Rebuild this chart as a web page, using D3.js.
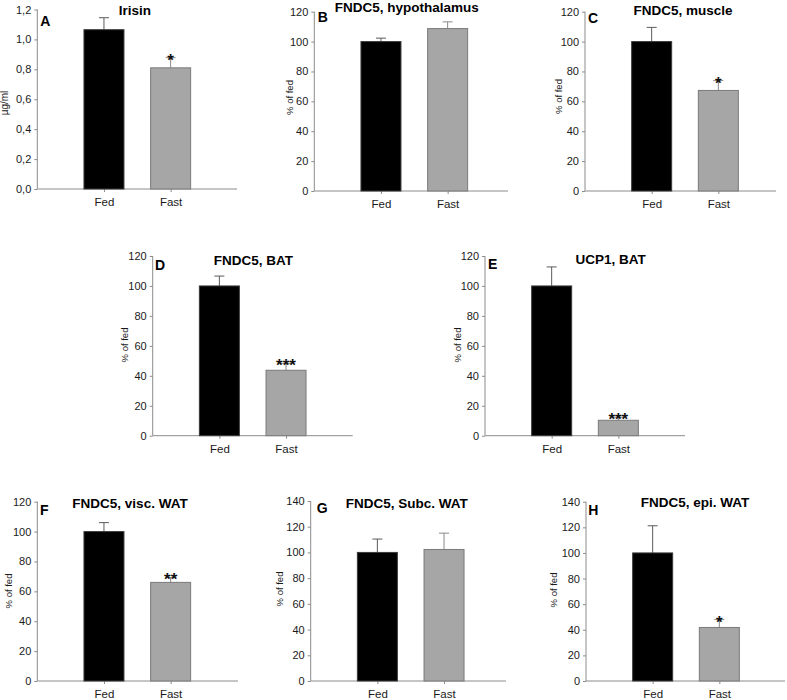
<!DOCTYPE html>
<html><head><meta charset="utf-8">
<script src="https://cdn.jsdelivr.net/npm/d3@7"></script>
<style>
body{margin:0;background:#fff;}
svg{display:block;font-family:"Liberation Sans",Arial,sans-serif;}
</style></head>
<body><svg id="chart" width="787" height="700"></svg>
<script>
// ---- data ----
const categories = ["Fed", "Fast"];
const panelLetters = ["A", "B", "C", "D", "E", "F", "G", "H"];
const panelTitles = ["Irisin", "FNDC5, hypothalamus", "FNDC5, muscle", "FNDC5, BAT",
  "UCP1, BAT", "FNDC5, visc. WAT", "FNDC5, Subc. WAT", "FNDC5, epi. WAT"];
const yLabels = ["µg/ml", "% of fed", "% of fed", "% of fed", "% of fed", "% of fed", "% of fed", "% of fed"];
const fedValues  = [1.065, 100, 100, 100, 100, 100, 100, 100];
const fastValues = [0.81, 108.7, 67.3, 43.7, 10.3, 66.0, 102.3, 41.8];
const fedErrors  = [0.08, 2.3, 9.5, 6.6, 12.7, 6.0, 10.4, 21.2];
const fastErrors = [0.068, 4.5, 6.6, 4.6, 2.0, 3.3, 12.7, 6.2];
const yMaxima = [1.2, 120, 120, 120, 120, 120, 140, 140];
const yTickSteps = [0.2, 20, 20, 20, 20, 20, 20, 20];
const significance = ["*", "", "*", "***", "***", "**", "", "*"];

// ---- layout (pixels) ----
const layout = [
  {x0: 37.3, xEnd: 237, yTop: 9.5, yBot: 189, lx: 3, ly: 16.5, tx: 135, ty: 15, labX: 8, labY: 103},
  {x0: 314.3, xEnd: 508, yTop: 11.7, yBot: 191, lx: 3.4, ly: 10, tx: 406.7, ty: 11.5, labX: 293, labY: 97.5},
  {x0: 585, xEnd: 776, yTop: 11.7, yBot: 191, lx: 3, ly: 11.7, tx: 683, ty: 15, labX: 561.5, labY: 96.5},
  {x0: 152.7, xEnd: 352.7, yTop: 256, yBot: 435.7, lx: 2.3, ly: 14, tx: 253.3, ty: 265, labX: 128.2, labY: 345},
  {x0: 485, xEnd: 685, yTop: 256, yBot: 435.7, lx: 3, ly: 13, tx: 610.7, ty: 264.3, labX: 460.5, labY: 345},
  {x0: 37.3, xEnd: 238, yTop: 501.7, yBot: 681, lx: 2.7, ly: 13.3, tx: 130, ty: 508.3, labX: 11.7, labY: 591},
  {x0: 310.7, xEnd: 506, yTop: 501, yBot: 681, lx: 6, ly: 12.3, tx: 406.7, ty: 508.3, labX: 282.7, labY: 589},
  {x0: 586, xEnd: 785, yTop: 501.7, yBot: 681, lx: 2.3, ly: 13.3, tx: 695, ty: 506.7, labX: 556.7, labY: 590}
];

const svg = d3.select("#chart");
const axisColor = "#8c8c8c";
const barFill = {Fed: "#000000", Fast: "#a6a6a6"};
const barStroke = {Fed: "#3a3a3a", Fast: "#7a7a7a"};
const errColor = {Fed: "#5a5a5a", Fast: "#8a8a8a"};
const barWidth = 40;

layout.forEach((L, i) => {
  const g = svg.append("g");
  const x = d3.scalePoint().domain(categories).range([L.x0, L.x0 + 200]).padding(1);
  const y = d3.scaleLinear().domain([0, yMaxima[i]]).range([L.yBot, L.yTop]);
  const ticks = d3.range(0, yMaxima[i] + yTickSteps[i] / 2, yTickSteps[i]);
  const fmt = i === 0 ? (v => d3.format(".1f")(v).replace(".", ",")) : d3.format("d");

  // y axis
  const ya = g.append("g").attr("transform", `translate(${L.x0},0)`)
    .call(d3.axisLeft(y).tickValues(ticks).tickFormat(fmt).tickSize(3).tickPadding(3).tickSizeOuter(0));
  ya.select(".domain").remove();
  ya.selectAll(".tick line").attr("stroke", axisColor);
  ya.selectAll("text").attr("fill", "#1a1a1a").style("font-size", "11px");
  g.append("line").attr("x1", L.x0).attr("x2", L.x0).attr("y1", L.yTop).attr("y2", L.yBot)
    .attr("stroke", axisColor).attr("stroke-width", 1);

  // x axis
  const xa = g.append("g").attr("transform", `translate(0,${L.yBot})`)
    .call(d3.axisBottom(x).tickSize(3).tickPadding(6).tickSizeOuter(0));
  xa.select(".domain").remove();
  xa.selectAll(".tick line").attr("stroke", axisColor);
  xa.selectAll("text").attr("fill", "#1a1a1a").style("font-size", "11.5px");
  g.append("line").attr("x1", L.x0).attr("x2", L.xEnd).attr("y1", L.yBot).attr("y2", L.yBot)
    .attr("stroke", axisColor).attr("stroke-width", 1);

  const rows = [
    {cat: "Fed", v: fedValues[i], e: fedErrors[i], sig: ""},
    {cat: "Fast", v: fastValues[i], e: fastErrors[i], sig: significance[i]}
  ];

  // error bars (upper only)
  rows.forEach(r => {
    const cx = x(r.cat);
    g.append("line").attr("x1", cx).attr("x2", cx).attr("y1", y(r.v)).attr("y2", y(r.v + r.e))
      .attr("stroke", errColor[r.cat]).attr("stroke-width", 1);
    g.append("line").attr("x1", cx - 5).attr("x2", cx + 5).attr("y1", y(r.v + r.e)).attr("y2", y(r.v + r.e))
      .attr("stroke", errColor[r.cat]).attr("stroke-width", 1);
  });

  // bars
  g.selectAll("rect.bar").data(rows).enter().append("rect")
    .attr("x", d => x(d.cat) - barWidth / 2).attr("width", barWidth)
    .attr("y", d => y(d.v)).attr("height", d => L.yBot - y(d.v))
    .attr("fill", d => barFill[d.cat]).attr("stroke", d => barStroke[d.cat]).attr("stroke-width", 1);

  // significance
  rows.filter(r => r.sig).forEach(r => {
    g.append("text").attr("x", x(r.cat)).attr("y", y(r.v + r.e) + 8)
      .attr("text-anchor", "middle").style("font-size", "17px").style("font-weight", "bold")
      .attr("fill", "#111").text(r.sig);
  });

  // panel letter
  g.append("text").attr("x", L.x0 + L.lx).attr("y", L.yTop + L.ly)
    .style("font-size", "14px").style("font-weight", "bold").attr("fill", "#000").text(panelLetters[i]);
  // title
  g.append("text").attr("x", L.tx).attr("y", L.ty).attr("text-anchor", "middle")
    .style("font-size", "13.5px").style("font-weight", "bold").attr("fill", "#000").text(panelTitles[i]);
  // y label
  g.append("text").attr("transform", `translate(${L.labX},${L.labY}) rotate(-90)`)
    .attr("text-anchor", "middle").style("font-size", i === 0 ? "10px" : "9.5px")
    .attr("fill", "#1a1a1a").text(yLabels[i]);
});
</script></body></html>
